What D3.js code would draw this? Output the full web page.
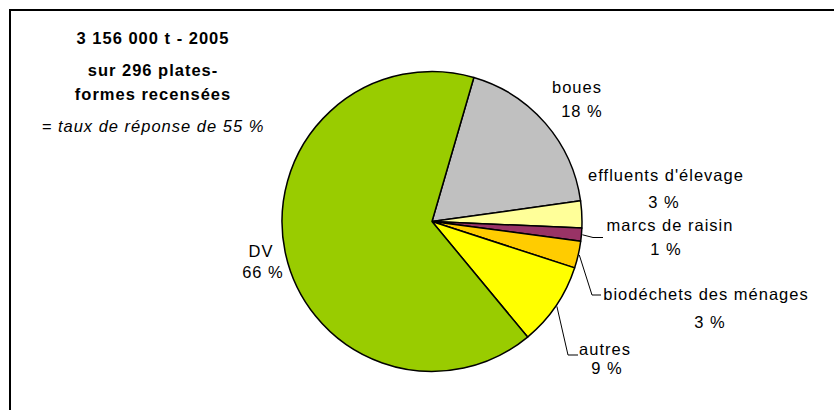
<!DOCTYPE html>
<html>
<head>
<meta charset="utf-8">
<script src="https://cdn.jsdelivr.net/npm/d3@7"></script>
<style>
  body { margin: 0; background: #fff; }
  text { font-family: "Liberation Sans", Arial, sans-serif; font-size: 16.5px; fill: #000; letter-spacing: 1px; }
</style>
</head>
<body>
<svg id="chart"></svg>
<script>
// data (shares in %)
const categories = ["boues", "effluents d'élevage", "marcs de raisin", "biodéchets des ménages", "autres", "DV"];
const shares = [18.3, 2.9, 1.4, 2.9, 9.0, 65.5];
const sliceColors = ["#C0C0C0", "#FFFF99", "#993366", "#FFCC00", "#FFFF00", "#99CC00"];
const titleLines = ["3 156 000 t - 2005", "sur 296 plates-", "formes recensées"];
const noteLine = "= taux de réponse de 55 %";

// layout
const width = 834, height = 410;
const cx = 432, cy = 221.5, radius = 150;
const firstAngle = 16.2 * Math.PI / 180;

// label anchors: name line, percent line, optional leader [bend, end]
const labelLayout = [
  { name: [577, 93], pct: [582, 117] },
  { name: [666, 181], pct: [664, 208] },
  { name: [670, 231], pct: [666, 255], leader: [[593, 237.5], [603, 237.5]] },
  { name: [706, 300], pct: [710, 328], leader: [[592, 295], [601, 295]] },
  { name: [605, 355], pct: [607, 374], leader: [[568, 355], [578, 355]] },
  { name: [261, 257], pct: [263, 278] }
];

const svg = d3.select("#chart")
  .attr("width", width)
  .attr("height", height);

// frame (only top and left edges fall inside the picture)
svg.append("path")
  .attr("d", "M10," + (height + 10) + " V10 H" + (width + 10))
  .attr("fill", "none")
  .attr("stroke", "#000")
  .attr("stroke-width", 2);

// title block
const titleY = [44, 76, 100];
titleLines.forEach((t, i) => {
  svg.append("text")
    .attr("x", 153)
    .attr("y", titleY[i])
    .attr("text-anchor", "middle")
    .style("font-weight", "bold")
    .text(t);
});
svg.append("text")
  .attr("x", 153)
  .attr("y", 132)
  .attr("text-anchor", "middle")
  .style("font-style", "italic")
  .text(noteLine);

// pie
const pie = d3.pie()
  .sort(null)
  .value(d => d)
  .startAngle(firstAngle)
  .endAngle(firstAngle + 2 * Math.PI);

const arc = d3.arc().innerRadius(0).outerRadius(radius);
const rimArc = d3.arc().innerRadius(radius + 1).outerRadius(radius + 1);

const arcs = pie(shares);

const g = svg.append("g")
  .attr("transform", `translate(${cx},${cy})`);

g.selectAll("path.slice")
  .data(arcs)
  .enter()
  .append("path")
  .attr("class", "slice")
  .attr("d", arc)
  .attr("fill", (d, i) => sliceColors[i])
  .attr("stroke", "#000")
  .attr("stroke-width", 1.5)
  .attr("stroke-linejoin", "round");

// leader lines
arcs.forEach((d, i) => {
  const lay = labelLayout[i];
  if (!lay.leader) return;
  const p = rimArc.centroid(d);
  const pts = [[cx + p[0], cy + p[1]]].concat(lay.leader);
  svg.append("path")
    .attr("d", d3.line()(pts))
    .attr("fill", "none")
    .attr("stroke", "#000")
    .attr("stroke-width", 1);
});

// labels
arcs.forEach((d, i) => {
  const lay = labelLayout[i];
  svg.append("text")
    .attr("x", lay.name[0])
    .attr("y", lay.name[1])
    .attr("text-anchor", "middle")
    .text(categories[i]);
  svg.append("text")
    .attr("x", lay.pct[0])
    .attr("y", lay.pct[1])
    .attr("text-anchor", "middle")
    .text(Math.round(shares[i]) + " %");
});
</script>
</body>
</html>
